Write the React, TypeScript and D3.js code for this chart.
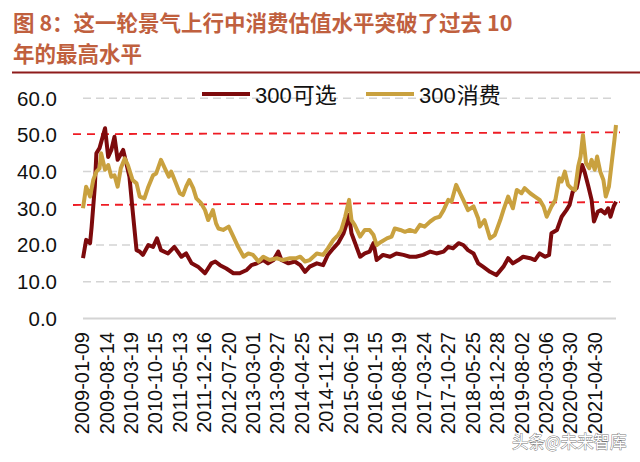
import React from "react";
import * as d3 from "d3";

// x categories: weekly observations, labels every 31 weeks
const tickLabels = [
  "2009-01-09", "2009-08-14", "2010-03-19", "2010-10-15", "2011-05-13", "2011-12-16",
  "2012-07-20", "2013-03-01", "2013-09-27", "2014-04-25", "2014-11-21", "2015-06-19",
  "2016-01-15", "2016-08-19", "2017-03-24", "2017-10-27", "2018-05-25", "2018-12-28",
  "2019-08-02", "2020-03-06", "2020-09-30", "2021-04-30",
];
const labelStep = 31;
const lastWeek = 677;

const yTicks = [0, 10, 20, 30, 40, 50, 60];
const gridValues = [10, 20, 40, 60];

// [week index, PE]
const seriesKexuan: [number, number][] = [
  [0, 16.4], [4, 21.4], [9, 20.5], [11, 25], [15, 35.9], [17, 45], [21, 46.4], [28, 51.8],
  [32, 44], [36, 45.9], [40, 49.5], [44, 43.2], [51, 45.9], [55, 42.3], [59, 38.6], [63, 29.5],
  [68, 18.6], [72, 18.2], [76, 17.3], [83, 20], [89, 19.5], [94, 21.8], [99, 18.6], [108, 17.7],
  [116, 19.5], [125, 16.8], [131, 17.7], [138, 15], [146, 14.1], [155, 12.3], [163, 15], [168, 15.5],
  [174, 14.5], [182, 13.6], [191, 12.3], [199, 12.3], [208, 13.2], [214, 14.5], [221, 15], [229, 15.9],
  [235, 15], [242, 15.9], [248, 18.2], [252, 15.9], [261, 15], [269, 15.5], [276, 14.5], [282, 12.7],
  [288, 14.1], [297, 15], [305, 14.5], [311, 17.3], [318, 19.1], [324, 20.5], [331, 23.2], [335, 25.9],
  [338, 28.2], [341, 23.2], [345, 20.9], [352, 16.8], [358, 17.7], [364, 18.2], [369, 20.5], [373, 15.9],
  [381, 17.3], [390, 16.8], [398, 17.7], [407, 17.3], [415, 16.8], [423, 16.8], [432, 17.3], [441, 18.2],
  [449, 17.7], [458, 18.2], [464, 19.5], [470, 19.1], [477, 20.5], [483, 20], [489, 18.6], [496, 17.7],
  [502, 15], [508, 14.1], [517, 12.7], [525, 11.8], [534, 14.1], [540, 16.4], [546, 15], [553, 15.9],
  [559, 16.8], [568, 16.4], [574, 15.9], [580, 17.7], [587, 16.8], [592, 17.3], [595, 23.2], [602, 24.1],
  [608, 27.7], [614, 29.5], [618, 30.9], [622, 34.5], [627, 35.5], [631, 39.5], [634, 41.8], [637, 40],
  [642, 35.9], [646, 32.3], [649, 26.4], [654, 29.1], [658, 29.5], [663, 28.6], [667, 30], [670, 27.7],
  [674, 30.5], [677, 31.8],
];

const seriesXiaofei: [number, number][] = [
  [0, 30], [4, 35.9], [9, 33.2], [13, 37.7], [17, 40], [21, 40.9], [23, 45], [28, 40.5],
  [32, 41.8], [36, 38.6], [40, 39], [44, 35.9], [48, 40.9], [53, 43.6], [57, 41.8], [63, 37.7],
  [68, 36.8], [72, 33.2], [78, 32.7], [83, 35.9], [89, 39], [93, 39.5], [99, 43.2], [104, 40.9],
  [109, 38.6], [112, 40], [118, 36.8], [123, 34.1], [127, 33.6], [131, 35.9], [135, 37.7], [140, 35.5],
  [144, 32.7], [150, 31.4], [155, 29.5], [159, 26.8], [165, 29.5], [169, 25.9], [172, 24.5], [178, 24.1],
  [185, 25], [191, 22.3], [197, 19.5], [204, 16.8], [210, 17.7], [216, 17.3], [223, 15.5], [229, 16.8],
  [237, 15.9], [246, 16.4], [254, 15.9], [263, 16.4], [271, 16.4], [276, 16.8], [282, 15.5], [288, 15.9],
  [297, 17.7], [305, 17.3], [311, 19.1], [318, 21.4], [324, 22.7], [328, 24.1], [333, 27.7], [338, 32.3],
  [341, 26.8], [345, 25.5], [352, 22.3], [358, 24.1], [364, 24.1], [369, 22.7], [373, 20], [379, 20.9],
  [386, 21.8], [392, 22.3], [396, 24.5], [403, 24.1], [409, 23.6], [415, 24.1], [422, 23.6], [428, 25.5],
  [434, 25], [441, 26.4], [447, 27.3], [453, 27.7], [458, 29.5], [464, 32.3], [468, 31.8], [474, 36.4],
  [479, 34.1], [483, 32.3], [489, 29.5], [496, 30.5], [502, 27.2], [504, 25], [510, 26.8], [517, 21.8],
  [523, 22.7], [530, 26.8], [534, 29.5], [540, 33.2], [546, 30], [551, 35], [557, 34.1], [561, 35.5],
  [568, 34.1], [574, 33.2], [580, 32.3], [585, 30.5], [589, 27.7], [595, 30.5], [600, 32.3], [605, 38.2],
  [608, 37.3], [612, 40], [616, 36.4], [620, 35.5], [625, 35], [629, 41.4], [632, 44.1], [635, 50],
  [639, 42.3], [643, 40.9], [646, 43.2], [650, 40.5], [653, 44.1], [657, 40], [661, 37.7], [664, 33.2],
  [668, 35.9], [671, 41.4], [675, 48.6], [677, 52.7],
];

// reference lines (value at left end, value at right end)
const refLines = [
  { from: 50.2, to: 50.7 },
  { from: 30.9, to: 31.7 },
];

const legendItems = [
  { name: "300可选", color: "#7d0a0c" },
  { name: "300消费", color: "#c9a13f" },
];

export default function App() {
  const W = 640, H = 462;
  const x = d3.scaleLinear().domain([0, lastWeek]).range([83, 616]);
  const y = d3.scaleLinear().domain([0, 60]).range([318.4, 98.2]);
  const line = d3.line<[number, number]>().x((d) => x(d[0])).y((d) => y(d[1]));
  const latin = "'Liberation Sans', Arial, sans-serif";
  const cjk = "'Noto Sans CJK SC', 'Liberation Sans', sans-serif";

  return (
    <svg width={W} height={H} viewBox={`0 0 ${W} ${H}`}
      style={{ position: "absolute", left: 0, top: 0, background: "#fff" }}>
      <rect width={W} height={H} fill="#fff" />
      {/* title */}
      <text x={13} y={31} fontFamily={cjk} fontWeight={700} fontSize={21.5} fill="#c0603e">
        图 8：这一轮景气上行中消费估值水平突破了过去 10
      </text>
      <text x={13} y={62} fontFamily={cjk} fontWeight={700} fontSize={21.5} fill="#c0603e">
        年的最高水平
      </text>
      <line x1={12} x2={640} y1={72.5} y2={72.5} stroke="#8e1b1b" strokeWidth={2} />

      {/* grid */}
      {gridValues.map((v) => (
        <line key={v} x1={83} x2={616} y1={y(v)} y2={y(v)} stroke="#d4d4d4"
          strokeWidth={1.5} strokeDasharray="8,5" />
      ))}
      <line x1={83} x2={616} y1={y(0)} y2={y(0)} stroke="#d4d4d4" strokeWidth={2} />

      {/* y labels */}
      {yTicks.map((v) => (
        <text key={v} x={57} y={y(v)} dy="0.36em" textAnchor="end" fontFamily={latin}
          fontSize={20.5} fill="#111">{v.toFixed(1)}</text>
      ))}

      {/* x labels */}
      {tickLabels.map((t, i) => {
        const xx = x(i * labelStep) - 1;
        return (
          <text key={t} transform={`translate(${xx},332) rotate(-90)`} dy="0.36em"
            textAnchor="end" fontFamily={latin} fontSize={20} fill="#111">{t}</text>
        );
      })}

      {/* red reference lines */}
      {refLines.map((r, i) => (
        <line key={i} x1={73} x2={620} y1={y(r.from)} y2={y(r.to)} stroke="#ee1c24"
          strokeWidth={1.8} strokeDasharray="8,6" />
      ))}

      {/* series */}
      <path d={line(seriesKexuan) || ""} fill="none" stroke={legendItems[0].color}
        strokeWidth={4} strokeLinejoin="round" />
      <path d={line(seriesXiaofei) || ""} fill="none" stroke={legendItems[1].color}
        strokeWidth={4} strokeLinejoin="round" />

      {/* legend */}
      {legendItems.map((it, i) => {
        const lx = 202 + i * 164;
        return (
          <g key={it.name}>
            <line x1={lx} x2={lx + 48} y1={94} y2={94} stroke={it.color} strokeWidth={4} />
            <text x={lx + 53} y={102.5} fontFamily={latin} fontSize={22} fill="#111">
              <tspan>{it.name.slice(0, 3)}</tspan>
              <tspan fontFamily={cjk} dx={1}>{it.name.slice(3)}</tspan>
            </text>
          </g>
        );
      })}

      {/* watermark */}
      <text x={512} y={448} fontFamily={cjk} fontSize={16.5} fill="#fff" stroke="#777"
        strokeWidth={0.9} paintOrder="stroke">头条@未来智库</text>
    </svg>
  );
}
